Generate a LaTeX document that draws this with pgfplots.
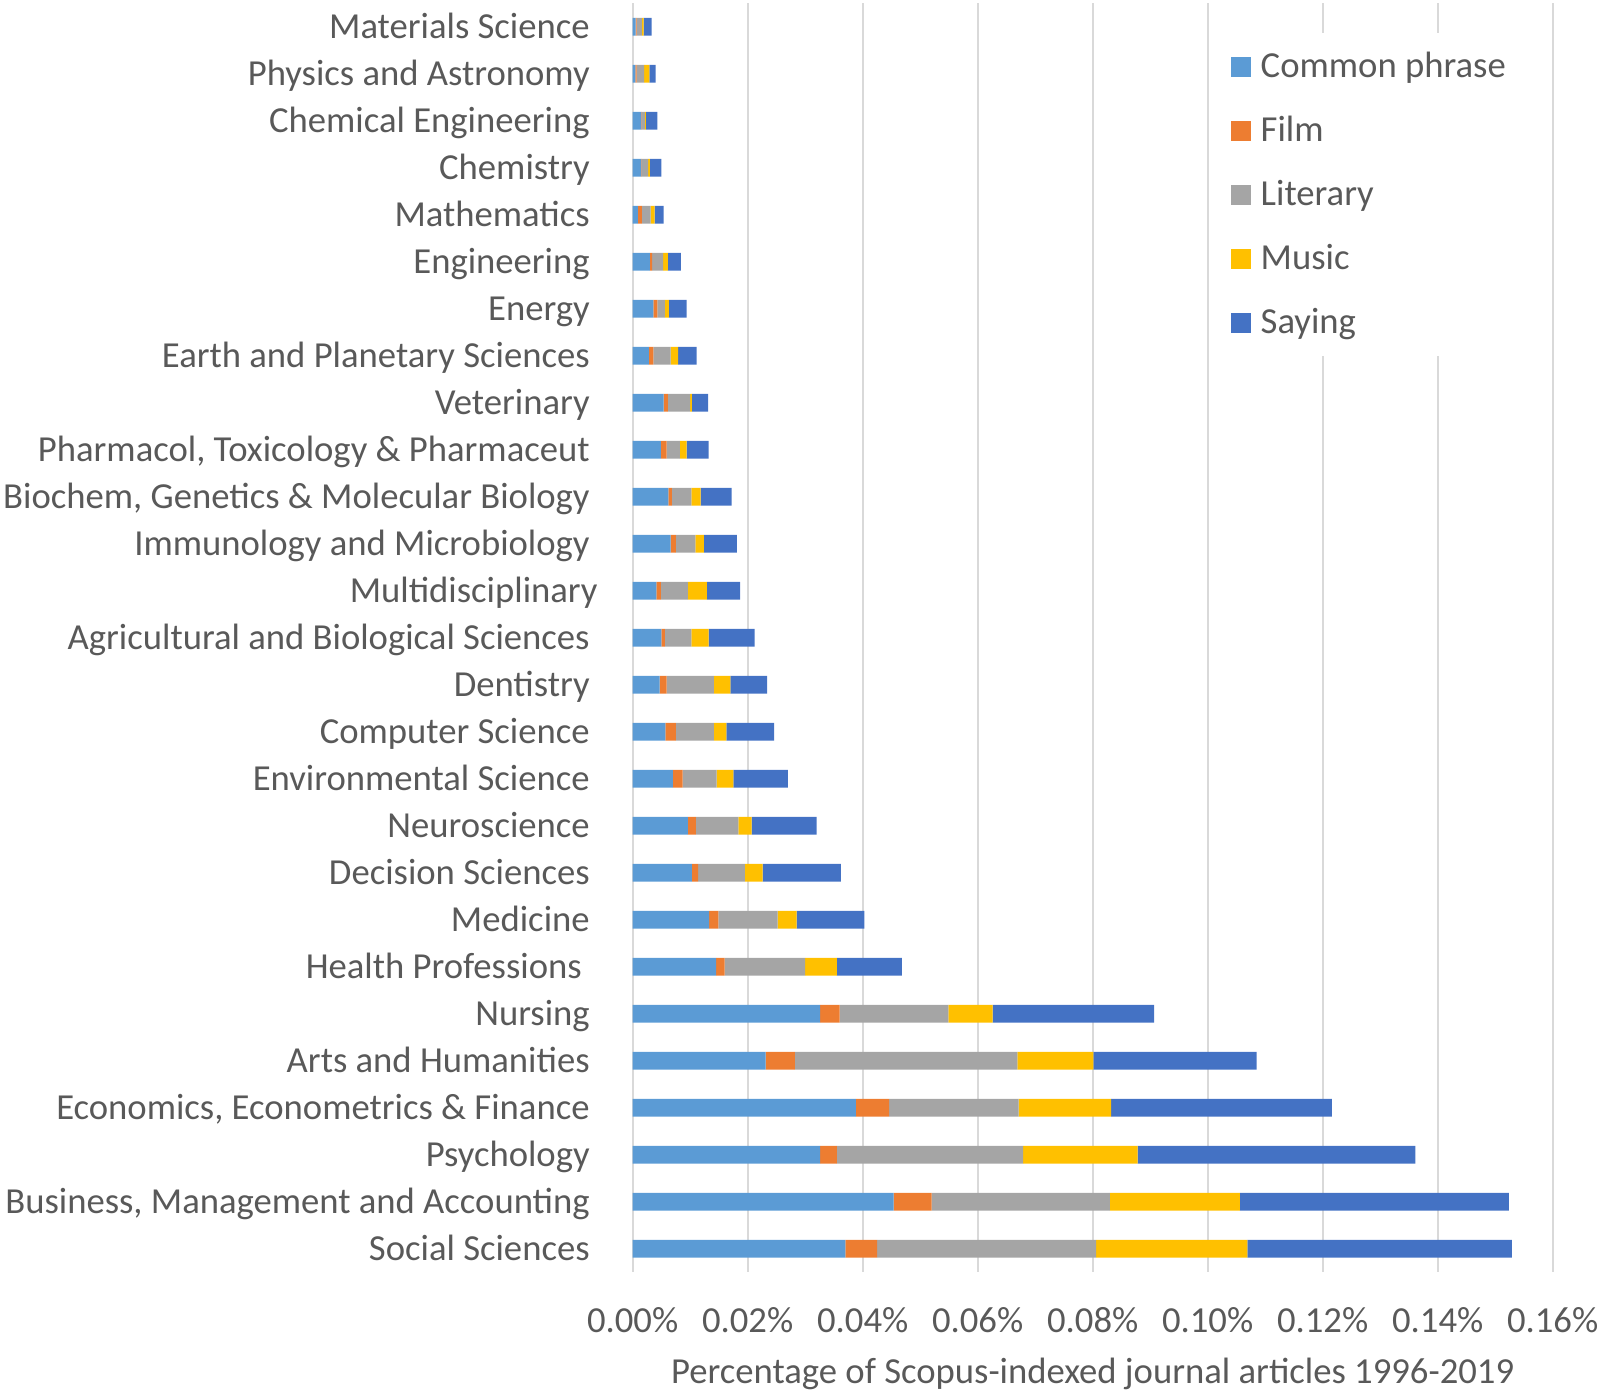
\documentclass[border=0pt]{standalone}
\usepackage{pgfplots}
\pgfplotsset{compat=1.18}
\usepackage{pgfplotstable}
\usepackage{fontspec}
\setmainfont{Carlito}
\definecolor{cpc}{HTML}{5B9BD5}
\definecolor{filmc}{HTML}{ED7D31}
\definecolor{litc}{HTML}{A5A5A5}
\definecolor{musc}{HTML}{FFC000}
\definecolor{sayc}{HTML}{4472C4}
\definecolor{gridc}{HTML}{D9D9D9}
\definecolor{txt}{HTML}{595959}
\newcommand\fs{\fontsize{11pt}{13pt}\selectfont}
\newcommand\ls{\hspace*{3pt}\rule[-2.4pt]{0pt}{9.9pt}}
\pgfplotsset{sq/.style={legend image code/.code={\fill[##1] (0pt,-3pt) rectangle (6pt,3pt);}}}

\pgfplotstableread{
idx cp film lit music say
0 0.0005 0.0002 0.0009 0.0003 0.0014
1 0.00045 0.00025 0.0013 0.0009 0.0011
2 0.0015 0.0001 0.0005 0.0002 0.0020
3 0.0015 0.0001 0.0011 0.0003 0.0020
4 0.0009 0.0007 0.0015 0.0007 0.0016
5 0.0030 0.0004 0.0019 0.0008 0.0023
6 0.0036 0.0007 0.0013 0.0007 0.0031
7 0.0028 0.0008 0.0030 0.0013 0.0032
8 0.0054 0.0007 0.0039 0.0003 0.0028
9 0.0049 0.0010 0.0023 0.0012 0.0038
10 0.0062 0.0006 0.0034 0.0016 0.0054
11 0.0066 0.0009 0.0034 0.0015 0.0057
12 0.0041 0.0008 0.0047 0.0033 0.0058
13 0.0050 0.0006 0.0046 0.0030 0.0080
14 0.0047 0.0012 0.0082 0.0029 0.0064
15 0.0057 0.0018 0.0066 0.0022 0.0083
16 0.0070 0.0017 0.0059 0.0029 0.0095
17 0.0096 0.0014 0.0074 0.0023 0.0113
18 0.0103 0.0011 0.0081 0.0031 0.0136
19 0.0133 0.0016 0.0103 0.0033 0.0118
20 0.0145 0.0015 0.0140 0.0055 0.0113
21 0.0326 0.0034 0.0189 0.0077 0.0281
22 0.0231 0.0051 0.0387 0.0132 0.0284
23 0.0388 0.0058 0.0225 0.0161 0.0384
24 0.0326 0.0029 0.0324 0.0199 0.0483
25 0.0454 0.0066 0.0310 0.0226 0.0468
26 0.0370 0.0055 0.0381 0.0263 0.0460
}\datatable

\begin{document}
\begin{tikzpicture}
\begin{axis}[
  scale only axis, width=276pt, height=380.7pt,
  xbar stacked, bar width=5.3pt,
  xmin=0, xmax=0.16, ymin=-0.5, ymax=26.5, y dir=reverse,
  xtick={0,0.02,0.04,0.06,0.08,0.1,0.12,0.14,0.16},
  xticklabels={0.00\%,0.02\%,0.04\%,0.06\%,0.08\%,0.10\%,0.12\%,0.14\%,0.16\%},
  ytick={0,1,2,3,4,5,6,7,8,9,10,11,12,13,14,15,16,17,18,19,20,21,22,23,24,25,26},
  yticklabels={Materials Science,Physics and Astronomy,Chemical Engineering,Chemistry,Mathematics,Engineering,Energy,Earth and Planetary Sciences,Veterinary,{Pharmacol, Toxicology \& Pharmaceut},{Biochem, Genetics \& Molecular Biology},Immunology and Microbiology,Multidisciplinary\hspace*{-2.4pt},Agricultural and Biological Sciences,Dentistry,Computer Science,Environmental Science,Neuroscience,Decision Sciences,Medicine,Health Professions\hspace*{2.4pt},Nursing,Arts and Humanities,{Economics, Econometrics \& Finance},Psychology,{Business, Management and Accounting},Social Sciences},
  major tick length=0pt,
  axis line style={draw=none},
  xmajorgrids, ymajorgrids=false,
  major grid style={draw=gridc, line width=0.6pt},
  tick label style={font=\fs, text=txt},
  xticklabel style={anchor=base, yshift=-18.15pt, inner sep=0pt},
  yticklabel style={anchor=base east, xshift=-12.7pt, yshift=-3.47pt, inner sep=0pt},
  xlabel={Percentage of Scopus-indexed journal articles 1996-2019},
  xlabel style={at={(axis description cs:0.5,0)}, anchor=base, yshift=-33.5pt, inner sep=0pt, font=\fs, text=txt},
  legend cell align=left,
  legend style={at={(axis description cs:0.637,0.9762)}, anchor=north west, draw=none, fill=white,
    font=\fs, text=txt, inner xsep=3.6pt, inner ysep=5.5pt, outer sep=0pt, row sep=10.1pt,
    nodes={inner sep=0pt}},
]
\addplot[fill=cpc, draw=none, sq] table[x=cp, y=idx] {\datatable};
\addlegendentry{\ls Common phrase}
\addplot[fill=filmc, draw=none, sq] table[x=film, y=idx] {\datatable};
\addlegendentry{\ls Film}
\addplot[fill=litc, draw=none, sq] table[x=lit, y=idx] {\datatable};
\addlegendentry{\ls Literary}
\addplot[fill=musc, draw=none, sq] table[x=music, y=idx] {\datatable};
\addlegendentry{\ls Music}
\addplot[fill=sayc, draw=none, sq] table[x=say, y=idx] {\datatable};
\addlegendentry{\ls Saying}
\end{axis}
\pgfresetboundingbox
\path[use as bounding box] ([shift={(-189.81pt,-37.14pt)}]current axis.south west) rectangle ([shift={(290.19pt,381.66pt)}]current axis.south west);
\end{tikzpicture}
\end{document}
